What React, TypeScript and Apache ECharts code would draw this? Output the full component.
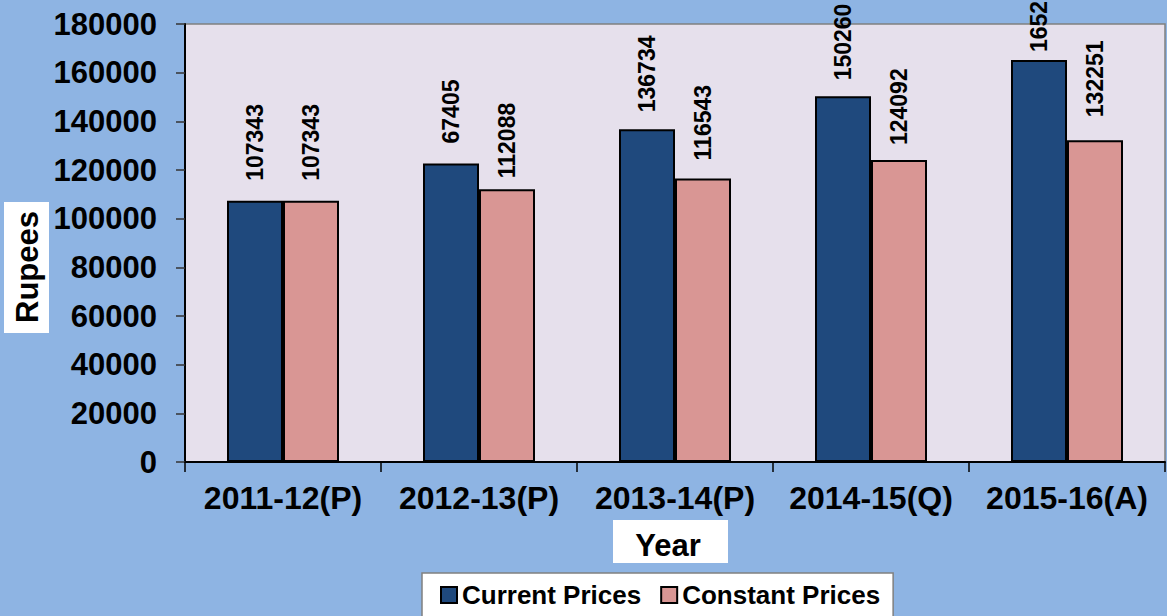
import React, { useEffect, useRef } from "react";
import * as echarts from "echarts";

const categories = ["2011-12(P)", "2012-13(P)", "2013-14(P)", "2014-15(Q)", "2015-16(A)"];
const currentPrices = [107343, 122674, 136734, 150260, 165205];
const constantPrices = [107343, 112088, 116543, 124092, 132251];
const currentLabels = ["107343", "67405", "136734", "150260", "165205"];
const constantLabels = ["107343", "112088", "116543", "124092", "132251"];
const currentLabelGaps = [20, 20, 17, 16, 8];
const constantLabelGaps = [20, 11, 18, 15, 23];
const yTicks = { min: 0, max: 180000, interval: 20000 };

const FONT = "'Liberation Sans', Arial, sans-serif";

export default function App() {
  const ref = useRef<HTMLDivElement>(null);
  useEffect(() => {
    if (!ref.current) return;
    const chart = echarts.init(ref.current, undefined, { renderer: "svg" });
    const labelStyle = (labels: string[]) => ({
      show: true,
      position: "top",
      rotate: 90,
      align: "left",
      verticalAlign: "middle",
      distance: 19,
      fontSize: 23,
      fontWeight: "bold",
      fontFamily: FONT,
      color: "#000",
      formatter: (p: any) => labels[p.dataIndex],
    });
    chart.setOption({
      animation: false,
      backgroundColor: "#8EB4E3",
      textStyle: { fontFamily: FONT },
      grid: {
        left: 185,
        right: 2,
        top: 24,
        bottom: 154,
        show: true,
        backgroundColor: "#E6E0EC",
        borderColor: "#808080",
        borderWidth: 1.5,
      },
      legend: {
        left: 422,
        top: 573,
        padding: [9, 13, 20, 18],
        backgroundColor: "#ffffff",
        borderColor: "#808080",
        borderWidth: 1.5,
        itemWidth: 16,
        itemHeight: 16,
        itemGap: 19,
        icon: "rect",
        textStyle: { fontSize: 26, fontWeight: "bold", color: "#000", fontFamily: FONT },
        data: ["Current Prices", "Constant Prices"],
      },
      xAxis: {
        type: "category",
        data: categories,
        axisLine: { lineStyle: { color: "#000", width: 2 } },
        axisTick: { show: true, length: 10, lineStyle: { color: "#000", width: 1.5 } },
        axisLabel: {
          interval: 0,
          fontSize: 32,
          fontWeight: "bold",
          color: "#000",
          margin: 20,
          fontFamily: FONT,
        },
      },
      yAxis: {
        type: "value",
        min: yTicks.min,
        max: yTicks.max,
        interval: yTicks.interval,
        splitLine: { show: false },
        axisLine: { show: true, lineStyle: { color: "#000", width: 2 } },
        axisTick: { show: true, length: 9, lineStyle: { color: "#333", width: 1.5 } },
        axisLabel: {
          fontSize: 31,
          fontWeight: "bold",
          color: "#000",
          margin: 28,
          fontFamily: FONT,
          formatter: (v: number) => String(v),
        },
      },
      series: [
        {
          name: "Current Prices",
          type: "bar",
          data: currentPrices.map((v, i) => ({
            value: v,
            label: { distance: currentLabelGaps[i] },
          })),
          barWidth: 56,
          barGap: "0%",
          itemStyle: { color: "#1F497D", borderColor: "#000", borderWidth: 2 },
          label: labelStyle(currentLabels),
        },
        {
          name: "Constant Prices",
          type: "bar",
          data: constantPrices.map((v, i) => ({
            value: v,
            label: { distance: constantLabelGaps[i] },
          })),
          barWidth: 56,
          itemStyle: { color: "#D99694", borderColor: "#000", borderWidth: 2 },
          label: labelStyle(constantLabels),
        },
      ],
      graphic: [
        {
          type: "rect",
          left: 4,
          top: 202,
          shape: { width: 45, height: 131 },
          style: { fill: "#ffffff" },
          z: 10,
        },
        {
          type: "text",
          x: 27,
          y: 267,
          rotation: Math.PI / 2,
          style: {
            text: "Rupees",
            fontSize: 31,
            fontWeight: "bold",
            fontFamily: FONT,
            fill: "#000",
            align: "center",
            verticalAlign: "middle",
          },
          z: 11,
        },
        {
          type: "rect",
          left: 613,
          top: 520,
          shape: { width: 115, height: 43 },
          style: { fill: "#ffffff" },
          z: 10,
        },
        {
          type: "text",
          x: 668,
          y: 545,
          style: {
            text: "Year",
            fontSize: 31,
            fontWeight: "bold",
            fontFamily: FONT,
            fill: "#000",
            align: "center",
            verticalAlign: "middle",
          },
          z: 11,
        },
      ],
    });
    return () => chart.dispose();
  }, []);
  return (
    <div
      ref={ref}
      style={{ position: "fixed", left: 0, top: 0, width: 1167, height: 616 }}
    />
  );
}
